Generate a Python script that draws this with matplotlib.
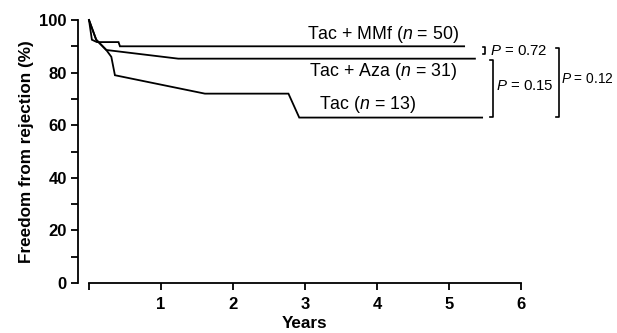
import matplotlib
matplotlib.use("Agg")
import matplotlib.pyplot as plt

plt.rcParams['font.family'] = ['Liberation Sans', 'DejaVu Sans']
plt.rcParams['mathtext.fontset'] = 'custom'
plt.rcParams['mathtext.rm'] = 'Liberation Sans'
plt.rcParams['mathtext.it'] = 'Liberation Sans:italic'

# Kaplan-Meier style curves (years, % free from rejection)
mmf_t = [0, 0.04, 0.11, 0.41, 0.43, 5.21]
mmf_s = [100, 92.5, 91.6, 91.6, 90.0, 90.0]
aza_t = [0, 0.10, 0.24, 1.24, 5.36]
aza_s = [100, 92.5, 88.6, 85.3, 85.3]
tac_t = [0, 0.10, 0.24, 0.31, 0.36, 1.61, 2.77, 2.92, 5.46]
tac_s = [100, 92.5, 88.6, 86.0, 79.0, 72.0, 72.0, 62.9, 62.9]

group_labels = ['Tac + MMf ($n$ = 50)', 'Tac + Aza ($n$ = 31)', 'Tac ($n$ = 13)']
p_labels = ['0.72', '0.15', '0.12']

x_ticks = [0, 1, 2, 3, 4, 5, 6]
y_ticks = [0, 20, 40, 60, 80, 100]

fig = plt.figure(figsize=(6.17, 3.33), dpi=100)
ax = fig.add_axes([89/617, 50/333, 432/617, 263/333])

for t, s in [(mmf_t, mmf_s), (aza_t, aza_s), (tac_t, tac_s)]:
    ax.plot(t, s, color='black', lw=1.3, clip_on=False, solid_joinstyle='miter')

ax.set_xlim(0, 6)
ax.set_ylim(0, 100)
ax.spines['top'].set_visible(False)
ax.spines['right'].set_visible(False)
ax.spines['left'].set_position(('outward', 8))
ax.spines['left'].set_bounds(0, 100)
ax.spines['bottom'].set_bounds(0, 6)
for sp in ['left', 'bottom']:
    ax.spines[sp].set_linewidth(1.3)

ax.set_xticks(x_ticks)
ax.set_xticklabels([''] + [str(v) for v in x_ticks[1:]], fontweight='bold', fontsize=12)
ax.set_yticks(y_ticks)
ax.set_yticklabels([str(v) for v in y_ticks], fontweight='bold', fontsize=12)
ax.set_yticks([10, 30, 50, 70, 90], minor=True)
ax.tick_params(axis='both', which='both', direction='out', length=5, width=1.3)
ax.tick_params(axis='y', pad=3)
ax.tick_params(axis='x', pad=5)

ax.set_xlabel('Years', fontweight='bold', fontsize=12.3, labelpad=3)
ax.set_ylabel('Freedom from rejection (%)', fontweight='bold', fontsize=12.3, labelpad=4)

# group labels
ax.text(4.08, 94.4, group_labels[0], ha='center', va='center', fontsize=12.8)
ax.text(4.08, 80.3, group_labels[1], ha='center', va='center', fontsize=12.8)
ax.text(3.875, 67.8, group_labels[2], ha='center', va='center', fontsize=12.8)

# comparison brackets
def bracket(x, y0, y1, w=0.04):
    ax.plot([x - w, x, x, x - w], [y0, y0, y1, y1], color='black', lw=1.2, clip_on=False)

bracket(5.50, 89.6, 86.9, w=0.03)
bracket(5.61, 84.7, 63.0)
bracket(6.53, 89.4, 63.0)

ax.text(5.57, 88.1, '$P$ = ' + p_labels[0], ha='left', va='center', fontsize=10.8, clip_on=False)
ax.text(5.65, 74.8, '$P$ = ' + p_labels[1], ha='left', va='center', fontsize=10.8, clip_on=False)
ax.text(6.555, 77.5, '$P$ = ' + p_labels[2], ha='left', va='center', fontsize=9.9, clip_on=False)

fig.savefig('out.png', dpi=100)
